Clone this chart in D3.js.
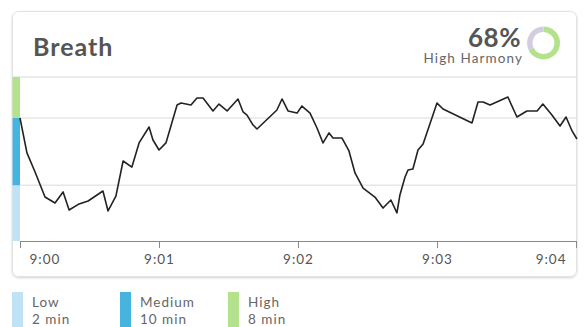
<!DOCTYPE html>
<html>
<head>
<meta charset="utf-8">
<script src="https://cdn.jsdelivr.net/npm/d3@7"></script>
<style>
  body { margin: 0; background: #fff; font-family: Lato, "Open Sans", sans-serif; }
  .axis path, .axis line { stroke: #8a8a8a; }
  .axis text { fill: #555; font-size: 13.5px; letter-spacing: 1px; font-family: Lato, sans-serif; }
</style>
</head>
<body>
<div id="chart"></div>
<script>
var w = 587;
var h = 327;

// seconds after 9:00 and breath coherence score (0-100)
var seconds = [0, 3, 6.5, 10.8, 15.1, 18.6, 21.2, 25.5, 29.4, 35.8, 38, 41.4, 44.5, 48.3, 51.4, 55.7,
  57.4, 60, 63, 67.8, 69.5, 73.8, 76.4, 79, 83.3, 85.9, 89.4, 94.1, 96.3, 98, 100.6, 102.3,
  110.9, 113.1, 115.7, 119.6, 121.7, 125.2, 128.2, 130.8, 133.4, 135.1, 139, 142, 144.6, 148.1,
  153.2, 156.7, 160.1, 162.7, 164, 166.2, 167.5, 169.6, 171.8, 174, 180, 182.6, 195.1, 197.7,
  199.9, 202.9, 210.6, 214.5, 218.8, 223.2, 225.7, 229.6, 233.1, 235.7, 238.3, 240.4];
var scores = [75, 53.7, 42.1, 26.8, 23.2, 29.9, 18.9, 22.6, 24.4, 30.5, 18.3, 27.4, 48.8, 45.1, 59.8, 69.5,
  61.6, 55.5, 59.8, 82.9, 84.1, 82.9, 87.2, 87.2, 79.3, 83.5, 79.3, 86.6, 78.7, 76.8, 70.7, 68.3,
  79.9, 86.6, 79.3, 78, 82.3, 78, 68.9, 59.8, 65.9, 62.8, 62.8, 54.9, 41.5, 32.3,
  26.8, 20.1, 25, 17.1, 28.1, 39, 43.3, 43.9, 55.5, 59.2, 84.1, 80.5, 72, 84.8,
  84.8, 82.9, 87.8, 75.6, 79.3, 79.3, 83.5, 76.8, 70.1, 75.6, 67.1, 62.2];

var zoneNames = ["Low", "Medium", "High"];
var zoneMinutes = [2, 10, 8];
var zoneBounds = [0, 34, 75, 100];   // score thresholds
var zoneColors = ["#bfe3f4", "#47b3df", "#b4e28c"];

var harmonyPct = 68;
var harmonyLabel = "High Harmony";
var title = "Breath";

var start = new Date(2020, 0, 1, 9, 0, 0);
var data = seconds.map(function(s, i) {
  return {t: new Date(start.getTime() + s * 1000), v: scores[i]};
});

var svg = d3.select("#chart").append("svg")
    .attr("width", w)
    .attr("height", h);

var defs = svg.append("defs");
var sh = defs.append("filter").attr("id", "shadow")
    .attr("x", "-5%").attr("y", "-5%").attr("width", "110%").attr("height", "115%");
sh.append("feDropShadow").attr("dx", 0).attr("dy", 1).attr("stdDeviation", 1.2)
    .attr("flood-color", "#000").attr("flood-opacity", 0.18);

// card
var card = {x: 12.5, y: 11.5, w: 564, h: 265};
svg.append("rect")
    .attr("x", card.x).attr("y", card.y)
    .attr("width", card.w).attr("height", card.h)
    .attr("rx", 6)
    .attr("fill", "#fff")
    .attr("stroke", "#e2e2e2")
    .attr("filter", "url(#shadow)");

svg.append("text")
    .attr("x", 33).attr("y", 56)
    .attr("fill", "#555")
    .style("font-size", "25px")
    .style("letter-spacing", "1px")
    .style("font-weight", "bold")
    .text(title);

// harmony donut
svg.append("text")
    .attr("x", 521).attr("y", 47)
    .attr("text-anchor", "end")
    .attr("fill", "#555")
    .style("font-size", "26px")
    .style("letter-spacing", "0.5px")
    .style("font-weight", "bold")
    .text(harmonyPct + "%");
svg.append("text")
    .attr("x", 523).attr("y", 63)
    .attr("text-anchor", "end")
    .attr("fill", "#666")
    .style("font-size", "13.5px")
    .style("letter-spacing", "1.1px")
    .text(harmonyLabel);

var pie = d3.pie().sort(null)([harmonyPct, 100 - harmonyPct]);
var arc = d3.arc().innerRadius(11).outerRadius(16.5);
svg.append("g")
    .attr("transform", "translate(543.5,43)")
    .selectAll("path")
    .data(pie)
    .enter().append("path")
      .attr("d", arc)
      .attr("fill", function(d, i) { return i == 0 ? "#b4e28c" : "#d4cde0"; });

// plot
var margin = {top: 77, left: 20, right: 11, bottom: 86};
var pw = w - margin.left - margin.right,
    ph = h - margin.top - margin.bottom;

var x = d3.scaleTime()
    .domain([start, new Date(start.getTime() + 240000)])
    .range([0, pw]);
var y = d3.scaleLinear().domain([0, 100]).range([ph, 0]);

var g = svg.append("g")
    .attr("transform", "translate(" + margin.left + "," + margin.top + ")");

// grid lines at zone thresholds
g.selectAll(".grid")
  .data(zoneBounds.slice(1))
  .enter().append("line")
    .attr("x1", -7.5).attr("x2", pw)
    .attr("y1", function(d) { return y(d); })
    .attr("y2", function(d) { return y(d); })
    .attr("stroke", "#e6e6e6")
    .attr("stroke-width", 1.5);

// zone bar on the left
g.selectAll(".zone")
  .data(zoneColors)
  .enter().append("rect")
    .attr("x", -7.5).attr("width", 7.5)
    .attr("y", function(d, i) { return y(zoneBounds[i + 1]); })
    .attr("height", function(d, i) { return y(zoneBounds[i]) - y(zoneBounds[i + 1]); })
    .attr("fill", function(d) { return d; });

var ax = g.append("g")
    .attr("class", "axis")
    .attr("transform", "translate(0," + ph + ")")
    .call(d3.axisBottom(x).ticks(d3.timeMinute.every(1))
      .tickFormat(d3.timeFormat("%-H:%M"))
      .tickSize(7).tickSizeOuter(0).tickPadding(6));
ax.selectAll("text")
    .attr("text-anchor", function(d, i, n) { return i == 0 ? "start" : (i == n.length - 1 ? "end" : "middle"); })
    .attr("dx", function(d, i, n) { return i == 0 ? 9 : (i == n.length - 1 ? -10 : 0); });

var line = d3.line()
    .x(function(d) { return x(d.t); })
    .y(function(d) { return y(d.v); });

g.append("path")
    .datum(data)
    .attr("fill", "none")
    .attr("stroke", "#222")
    .attr("stroke-width", 1.6)
    .attr("stroke-linejoin", "round")
    .attr("d", line);

// legend
var lg = svg.selectAll(".legend")
  .data(zoneNames)
  .enter().append("g")
    .attr("transform", function(d, i) { return "translate(" + (12 + i * 108) + ",292)"; });
lg.append("rect")
    .attr("width", 11).attr("height", 40)
    .attr("fill", function(d, i) { return zoneColors[i]; });
lg.append("text")
    .attr("x", 20).attr("y", 15)
    .attr("fill", "#666")
    .style("font-size", "13.5px")
    .style("letter-spacing", "1px")
    .text(function(d) { return d; });
lg.append("text")
    .attr("x", 20).attr("y", 32)
    .attr("fill", "#666")
    .style("font-size", "13.5px")
    .style("letter-spacing", "1px")
    .text(function(d, i) { return zoneMinutes[i] + " min"; });
</script>
</body>
</html>
